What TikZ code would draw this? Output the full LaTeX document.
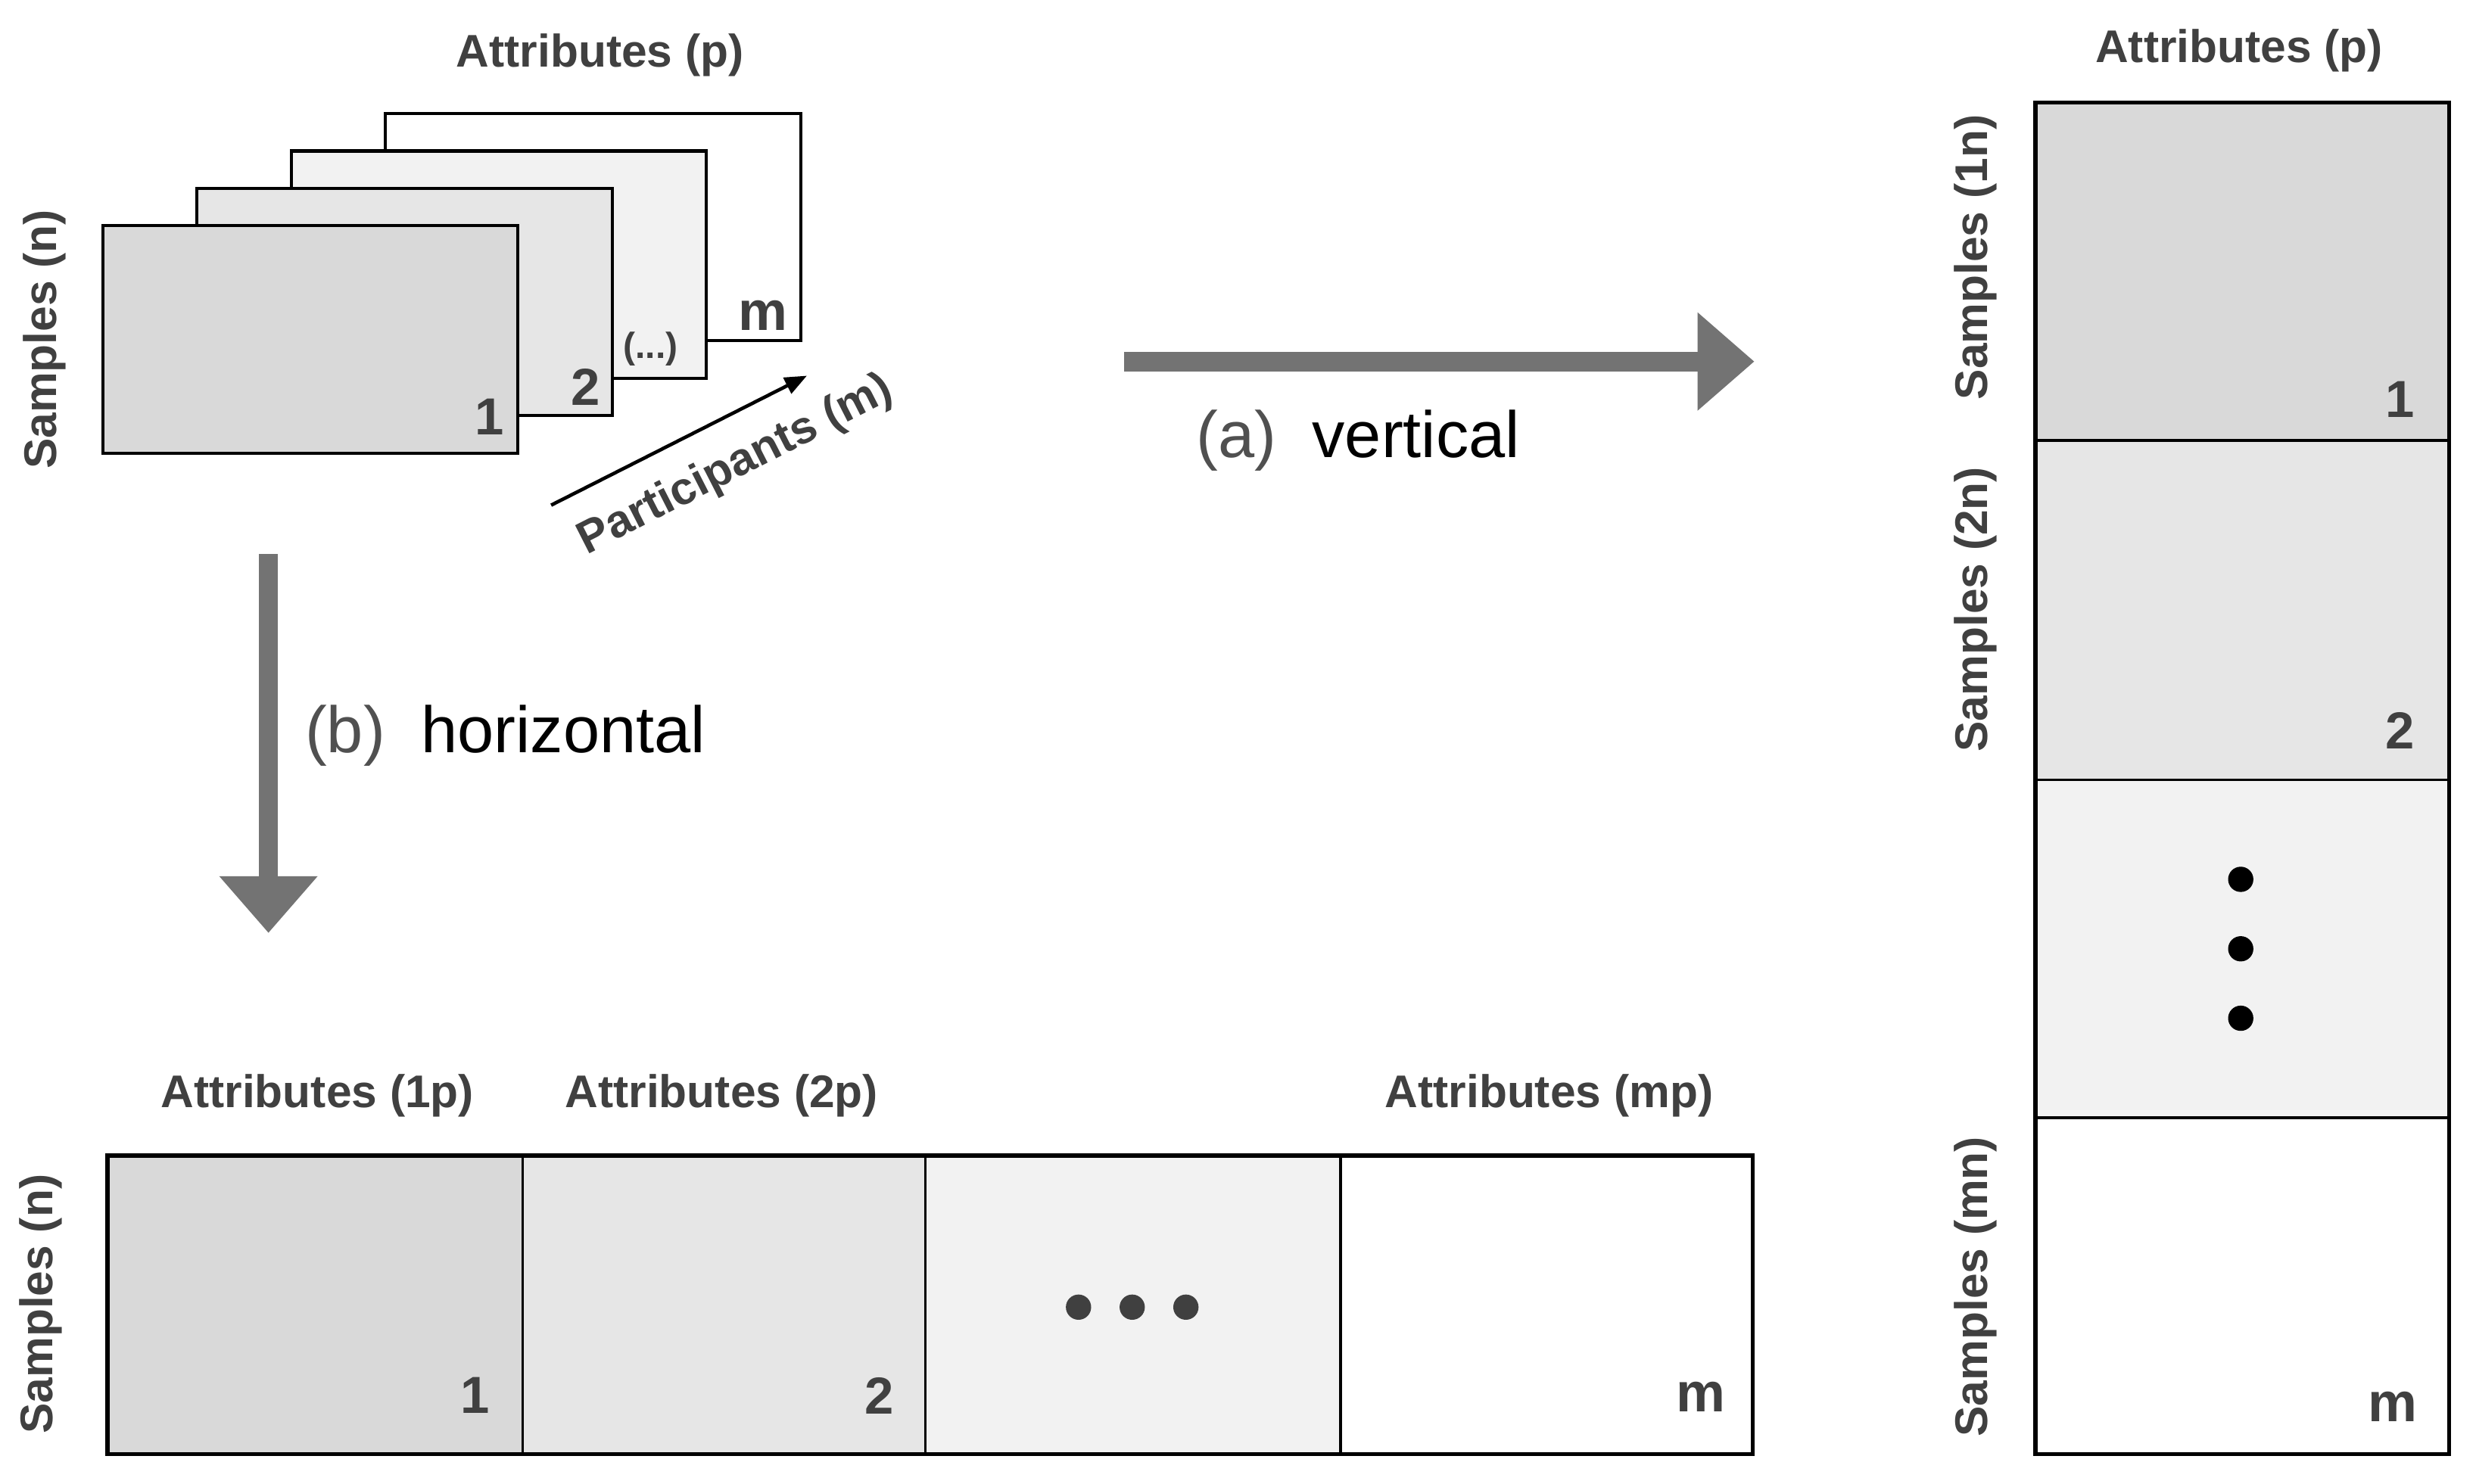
\documentclass[tikz,border=0pt]{standalone}
\usepackage{fontspec}
\setmainfont{Liberation Sans}
\usetikzlibrary{arrows.meta}

\definecolor{grayA}{HTML}{D9D9D9}
\definecolor{grayB}{HTML}{E6E6E6}
\definecolor{grayC}{HTML}{F2F2F2}
\definecolor{txtgray}{HTML}{404040}
\definecolor{capgray}{HTML}{505050}
\definecolor{arrowgray}{HTML}{737373}

\begin{document}
\begin{tikzpicture}[x=1pt,y=-1pt,
  lbl/.style={font=\fontsize{29}{29}\selectfont\bfseries,text=txtgray,inner sep=0},
  num/.style={font=\fontsize{33}{33}\selectfont\bfseries,text=txtgray,inner sep=0},
  caption/.style={font=\fontsize{41.5}{41.5}\selectfont,inner sep=0},
  sheet/.style={draw=black,line width=2},
  bigarrow/.style={draw=arrowgray,line width=12.3,-{Triangle[length=36pt,width=60pt]}}]

\useasboundingbox (0,0) rectangle (1568,940);

% stacked sheets, back to front
\foreach \i/\c in {3/white,2/grayC,1/grayB,0/grayA}
  \filldraw [sheet,fill=\c] (65+59.7*\i,143-23.7*\i) rectangle ++(263,144);

\node[num] (nodeS1) at (310,264) {1};
\node[num] (nodeS2) at (371,245) {2};
\node[lbl,font=\fontsize{23}{23}\selectfont\bfseries] (nodeS3) at (412,221) {(...)};
\node[num,font=\fontsize{35}{35}\selectfont\bfseries] (nodeSm) at (483,200) {m};

\node[lbl] (attrTop) at (380,35) {Attributes (p)};
\node[lbl,rotate=90] (sampTop) at (28,215) {Samples (n)};

\coordinate (partS) at (349,320);
\coordinate (partE) at (511,238);
\draw [line width=2.2,-{Triangle[length=14pt,width=11pt]}] (partS) -- (partE);
\node[lbl,rotate=27] (partLbl) at (466,295) {Participants (m)};

% the two ways
\coordinate (vertS) at (712,229);
\coordinate (vertE) at (1111,229);
\draw [bigarrow] (vertS) -- (vertE);
\node[caption] (vertLbl) at (860,279) {\textcolor{capgray}{(a)}\hspace{0.55em}vertical};

\coordinate (horS) at (170,351);
\coordinate (horE) at (170,591);
\draw [bigarrow] (horS) -- (horE);
\node[caption] (horLbl) at (320,466) {\textcolor{capgray}{(b)}\hspace{0.55em}horizontal};

% vertical stack
\filldraw [fill=grayA,line width=1.6] (1289,65) rectangle (1551,279);
\filldraw [fill=grayB,line width=1.6] (1289,279) rectangle (1551,494);
\filldraw [fill=grayC,line width=1.6] (1289,494) rectangle (1551,708);
\filldraw [fill=white,line width=1.6] (1289,708) rectangle (1551,921);
\draw [line width=2.6] (1289,65) rectangle (1551,921);

\node[num] (nodeV1) at (1520,253) {1};
\node[num] (nodeV2) at (1520,463) {2};
\node[num,font=\fontsize{35}{35}\selectfont\bfseries] (nodeVm) at (1515,891) {m};
\foreach \y in {557,601,645}
  \fill [black] (1419,\y) circle (8pt);

\node[lbl] (attrV) at (1418,32) {Attributes (p)};
\node[lbl,rotate=90] (sampV1) at (1251,163) {Samples (1n)};
\node[lbl,rotate=90] (sampV2) at (1251,386) {Samples (2n)};
\node[lbl,rotate=90] (sampVm) at (1251,815) {Samples (mn)};

% horizontal row
\filldraw [fill=grayA,line width=1.6] (68,732) rectangle (331,921);
\filldraw [fill=grayB,line width=1.6] (331,732) rectangle (586,921);
\filldraw [fill=grayC,line width=1.6] (586,732) rectangle (849,921);
\filldraw [fill=white,line width=1.6] (849,732) rectangle (1110,921);
\draw [line width=2.6] (68,732) rectangle (1110,921);

\node[num] (nodeH1) at (301,884) {1};
\node[num] (nodeH2) at (557,884) {2};
\node[num,font=\fontsize{35}{35}\selectfont\bfseries] (nodeHm) at (1077,885) {m};
\foreach \x in {683,717,751}
  \fill [txtgray] (\x,828) circle (8pt);

\node[lbl] (attrH1) at (201,694) {Attributes (1p)};
\node[lbl] (attrH2) at (457,694) {Attributes (2p)};
\node[lbl] (attrHm) at (981,694) {Attributes (mp)};
\node[lbl,rotate=90] (sampH) at (26,826) {Samples (n)};

\end{tikzpicture}
\end{document}
